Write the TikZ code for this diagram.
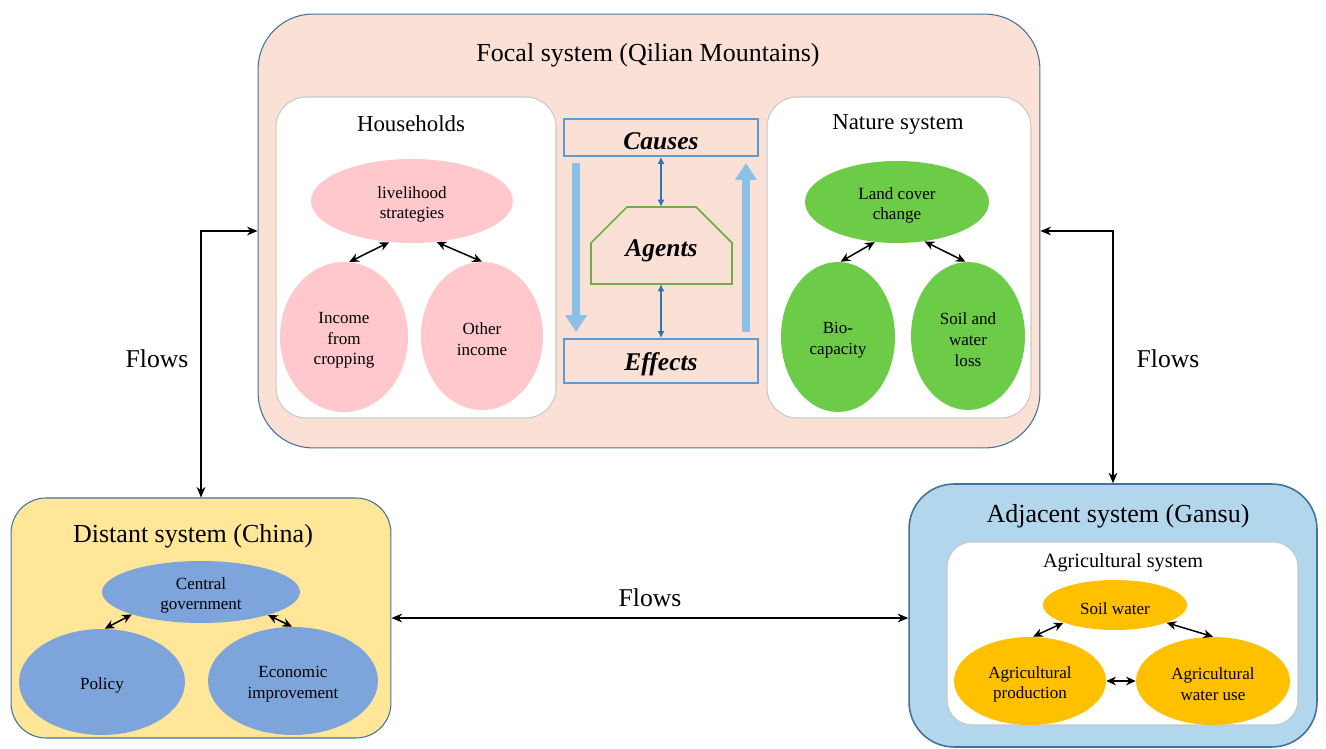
\documentclass[tikz,border=0pt]{standalone}
\usepackage{fontspec}
\setmainfont{Liberation Serif}
\usetikzlibrary{shapes.geometric,arrows.meta,calc}
\definecolor{focalfill}{HTML}{FBE1D5}
\definecolor{pinkell}{HTML}{FFC8CC}
\definecolor{greenell}{HTML}{6CCB47}
\definecolor{distfill}{HTML}{FFE699}
\definecolor{blueell}{HTML}{7DA5DB}
\definecolor{adjfill}{HTML}{B2D6EB}
\definecolor{orangeell}{HTML}{FFC000}
\definecolor{boxline}{HTML}{41719C}
\definecolor{cebox}{HTML}{5B9BD5}
\definecolor{bigarr}{HTML}{8BC0E8}
\definecolor{smallarr}{HTML}{2E75B6}
\definecolor{agentgreen}{HTML}{70AD47}
\definecolor{innerline}{HTML}{C8C8C8}
\tikzset{
  sysbox/.style={draw=boxline, line width=0.6pt, rectangle},
  innerbox/.style={draw=innerline, fill=white, line width=0.6pt, rectangle, rounded corners=0.6cm},
  ell/.style={ellipse, inner sep=0pt},
  etxt/.style={align=center, inner sep=0pt, yshift=-0.07cm, font=\fontsize{9.7}{11.8}\selectfont},
  cebx/.style={draw=cebox, line width=1.1pt, rectangle, inner sep=0pt},
  cetxt/.style={inner sep=0pt, yshift=-0.07cm, font=\fontsize{14.5}{16}\selectfont\bfseries\itshape},
  link/.style={{Stealth[length=5.5pt,width=5pt]}-{Stealth[length=5.5pt,width=5pt]}, line width=0.85pt, black},
  flow/.style={{Stealth[length=6pt,width=5pt]}-{Stealth[length=6pt,width=5pt]}, line width=0.6pt, black},
  bigarrow/.style={-{Triangle[width=0.42cm,length=0.34cm]}, line width=4.6pt, draw=bigarr, shorten <=0.12cm, shorten >=0.12cm},
  smallarrow/.style={{Latex[length=4pt,width=4pt]}-{Latex[length=4pt,width=4pt]}, line width=0.6pt, draw=smallarr},
  ttl/.style={font=\fontsize{14.8}{17}\selectfont},
  subttl/.style={font=\fontsize{13}{15}\selectfont},
  flowlbl/.style={font=\fontsize{14.6}{17}\selectfont}
}
\begin{document}
\begin{tikzpicture}[x=0.02cm, y=-0.02cm]
\useasboundingbox (0,0) rectangle (1326,749);
% Focal system
\node[sysbox, fill=focalfill, rounded corners=1.1cm, minimum width=15.64cm, minimum height=8.68cm] (focal) at (649,231) {};
\node[ttl] (focalttl) at (648,55) {Focal system (Qilian Mountains)};
% Households
\node[innerbox, minimum width=5.6cm, minimum height=6.42cm] (hh) at (416,257.5) {};
\node[subttl] (hhttl) at (411,123.5) {Households};
\node[ell, fill=pinkell, minimum width=4.04cm, minimum height=1.68cm, label={[etxt]center:{livelihood\\strategies}}] (lh) at (412,201) {};
\node[ell, fill=pinkell, minimum width=2.56cm, minimum height=3.0cm, label={[etxt]center:{Income\\from\\cropping}}] (inc) at (344,337) {};
\node[ell, fill=pinkell, minimum width=2.44cm, minimum height=2.96cm, label={[etxt]center:{Other\\income}}] (oth) at (482,336) {};
\draw[link] (lh.241) -- (inc.86);
\draw[link] (lh.301) -- (oth.90);
% Nature
\node[innerbox, minimum width=5.28cm, minimum height=6.42cm] (nat) at (899,257.5) {};
\node[subttl] (natttl) at (898,124) {Nature system};
\node[ell, fill=greenell, minimum width=3.68cm, minimum height=1.64cm, label={[etxt]center:{Land cover\\change}}] (lcc) at (897,202) {};
\node[ell, fill=greenell, minimum width=2.28cm, minimum height=3.0cm, label={[etxt]center:{Bio-\\capacity}}] (bio) at (838,337) {};
\node[ell, fill=greenell, minimum width=2.28cm, minimum height=2.96cm, label={[etxt]center:{Soil and\\water\\loss}}] (swl) at (968,336) {};
\draw[link] (lcc.241) -- (bio.88);
\draw[link] (lcc.305) -- (swl.92);
% Causes / Agents / Effects
\node[cebx, minimum width=3.88cm, minimum height=0.74cm, label={[cetxt]center:Causes}] (causes) at (661,137.5) {};
\node[cebx, minimum width=3.88cm, minimum height=0.88cm, label={[cetxt]center:Effects}] (effects) at (661,361) {};
\draw[agentgreen, line width=1pt] (591,284) -- (591,243) -- (627,207) -- (696,207) -- (732,243) -- (732,284) -- cycle;
\node[inner sep=0pt, minimum width=2.82cm, minimum height=1.54cm, label={[cetxt, yshift=-0.04cm]center:Agents}] (agents) at (661.5,245.5) {};
\draw[smallarrow] (causes.south) -- (causes.south |- agents.north);
\draw[smallarrow] (causes.south |- agents.south) -- (effects.north);
\draw[bigarrow] ($(causes.south west)+(13,0)$) -- ($(effects.north west)+(13,0)$);
\draw[bigarrow] ($(effects.north east)+(-13,0)$) -- ($(causes.south east)+(-13,0)$);
% Distant system
\node[sysbox, fill=distfill, rounded corners=0.7cm, minimum width=7.6cm, minimum height=4.8cm] (distant) at (201,618) {};
\node[ttl] (distttl) at (193,536) {Distant system (China)};
\node[ell, fill=blueell, minimum width=3.96cm, minimum height=1.24cm, label={[etxt]center:{Central\\government}}] (cg) at (201,592) {};
\node[ell, fill=blueell, minimum width=3.32cm, minimum height=2.12cm, label={[etxt]center:{Policy}}] (pol) at (102,682) {};
\node[ell, fill=blueell, minimum width=3.4cm, minimum height=2.16cm, label={[etxt]center:{Economic\\improvement}}] (eco) at (293,681) {};
\draw[link] (cg.198) -- (pol.87);
\draw[link] (cg.341) -- (eco.91);
% Adjacent system
\node[sysbox, fill=adjfill, line width=0.9pt, rounded corners=0.9cm, minimum width=8.16cm, minimum height=5.26cm] (adjacent) at (1113,615.5) {};
\node[ttl] (adjttl) at (1118,516) {Adjacent system (Gansu)};
\node[innerbox, rounded corners=0.5cm, minimum width=7.02cm, minimum height=3.66cm] (agr) at (1122.5,633.5) {};
\node[font=\fontsize{11.5}{13}\selectfont] (agrttl) at (1123,563) {Agricultural system};
\node[ell, fill=orangeell, minimum width=2.88cm, minimum height=1.0cm, label={[etxt]center:{Soil water}}] (sw) at (1115,605) {};
\node[ell, fill=orangeell, minimum width=3.04cm, minimum height=1.76cm, label={[etxt]center:{Agricultural\\production}}] (prod) at (1030,681) {};
\node[ell, fill=orangeell, minimum width=3.08cm, minimum height=1.76cm, label={[etxt]center:{Agricultural\\water use}}] (wu) at (1213,681) {};
\draw[link] (sw.199) -- (prod.86);
\draw[link] (sw.341) -- (wu.90);
\draw[link] (prod.east) -- (wu.west);
% Flows
\draw[flow] (focal.west) -| (distant.north);
\draw[flow] (focal.east) -| (adjacent.north);
\draw[flow] (distant.east) -- (distant.east -| adjacent.west);
\node[flowlbl] (fl1) at (157,359) {Flows};
\node[flowlbl] (fl2) at (1168,359) {Flows};
\node[flowlbl] (fl3) at (650,598) {Flows};
\end{tikzpicture}
\end{document}
